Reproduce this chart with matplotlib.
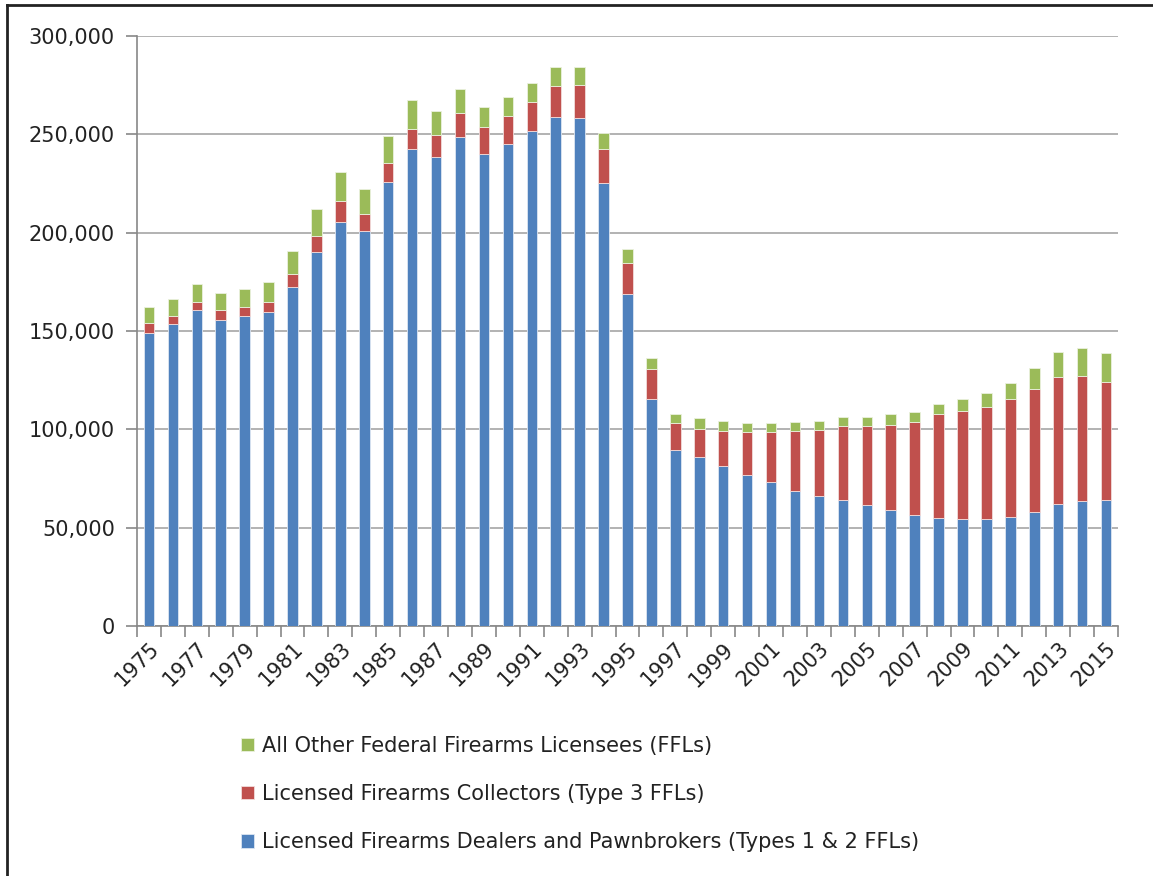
import matplotlib.pyplot as plt
import matplotlib.ticker as mticker
from matplotlib.lines import Line2D
import numpy as np

years = list(range(1975, 2016))

# Licensed Firearms Dealers and Pawnbrokers (Types 1 & 2)
dealers = [149100, 153700, 160800, 155600, 157600, 159500, 172300, 190000, 205600, 201000,
           225700, 242500, 238600, 248400, 240000, 245200, 251700, 258800, 258100, 225100,
           168600, 115200, 89300, 86100, 81500, 76900, 73200, 68600, 66100, 64100,
           61400, 58800, 56300, 55100, 54200, 54200, 55600, 58100, 62000, 63400, 64100]

# Licensed Firearms Collectors (Type 3)
collectors = [5100, 3900, 3900, 5000, 4600, 5200, 6600, 8400, 10300, 8500,
              9700, 10300, 10900, 12200, 13500, 14100, 14800, 15600, 16800, 17200,
              16100, 15300, 13700, 14200, 17600, 21600, 25300, 30500, 33700, 37600,
              40300, 43500, 47400, 52500, 55300, 57300, 59800, 62400, 64400, 63700, 59800]

# All other FFLs
others = [8000, 8500, 9000, 8500, 9000, 10200, 11700, 13600, 14900, 12800,
          13600, 14500, 12500, 12200, 10400, 9800, 9800, 9600, 9100, 8500,
          7100, 5600, 4600, 5300, 5100, 4500, 4500, 4400, 4400, 4600,
          4600, 5300, 5100, 5100, 5700, 7000, 8300, 10600, 12900, 14100, 14700]

labels = ['Licensed Firearms Dealers and Pawnbrokers (Types 1 & 2 FFLs)',
          'Licensed Firearms Collectors (Type 3 FFLs)',
          'All Other Federal Firearms Licensees (FFLs)']
colors = ['#4F81BD', '#C0504D', '#9BBB59']

fig = plt.figure(figsize=(11.53, 8.76), dpi=100)
ax = fig.add_axes([137 / 1153, 1 - 626 / 876, (1118 - 137) / 1153, 590 / 876])

x = np.arange(len(years))
w = 0.44
b1 = ax.bar(x, dealers, w, color=colors[0], edgecolor='#dce6f2', linewidth=0.6, zorder=3)
b2 = ax.bar(x, collectors, w, bottom=dealers, color=colors[1], edgecolor='#f2dcdb',
            linewidth=0.6, zorder=3)
bottom2 = np.array(dealers) + np.array(collectors)
b3 = ax.bar(x, others, w, bottom=bottom2, color=colors[2], edgecolor='#ebf1de',
            linewidth=0.6, zorder=3)

ax.set_xlim(-0.5, len(years) - 0.5)
ax.set_ylim(0, 300000)
ax.yaxis.set_major_locator(mticker.MultipleLocator(50000))
ax.yaxis.set_major_formatter(mticker.FuncFormatter(lambda v, p: f'{int(v):,}'))
ax.grid(axis='y', color='#a6a6a6', linewidth=1.2, zorder=0)

ax.set_xticks(x[::2])
ax.set_xticklabels([str(y) for y in years[::2]], rotation=45, ha='right',
                   rotation_mode='anchor', fontsize=15, color='#222222')
ax.set_xticks(np.arange(-0.5, len(years), 1), minor=True)
ax.tick_params(axis='x', which='major', length=0, pad=9)
ax.tick_params(axis='x', which='minor', length=8, color='#878787', width=1.2)
ax.tick_params(axis='y', length=8, color='#878787', width=1.2, labelsize=15, pad=8,
               labelcolor='#222222')

for s in ['top', 'right']:
    ax.spines[s].set_visible(False)
for s in ['left', 'bottom']:
    ax.spines[s].set_color('#878787')
    ax.spines[s].set_linewidth(1.2)

leg = fig.legend([b3, b2, b1], labels[::-1], loc='center left',
                 bbox_to_anchor=(222 / 1153, 1 - 794 / 876), frameon=False,
                 fontsize=15, handlelength=0.62, handleheight=0.62,
                 handletextpad=0.4, labelspacing=1.35, labelcolor='#222222')

# outer frame of the screenshot
fig.add_artist(Line2D([7 / 1153, 7 / 1153], [0, 1 - 5 / 876], color='#222222',
                      linewidth=2, transform=fig.transFigure))
fig.add_artist(Line2D([7 / 1153, 1.01], [1 - 5 / 876, 1 - 5 / 876], color='#222222',
                      linewidth=2, transform=fig.transFigure))

fig.savefig('out.png', dpi=100)
